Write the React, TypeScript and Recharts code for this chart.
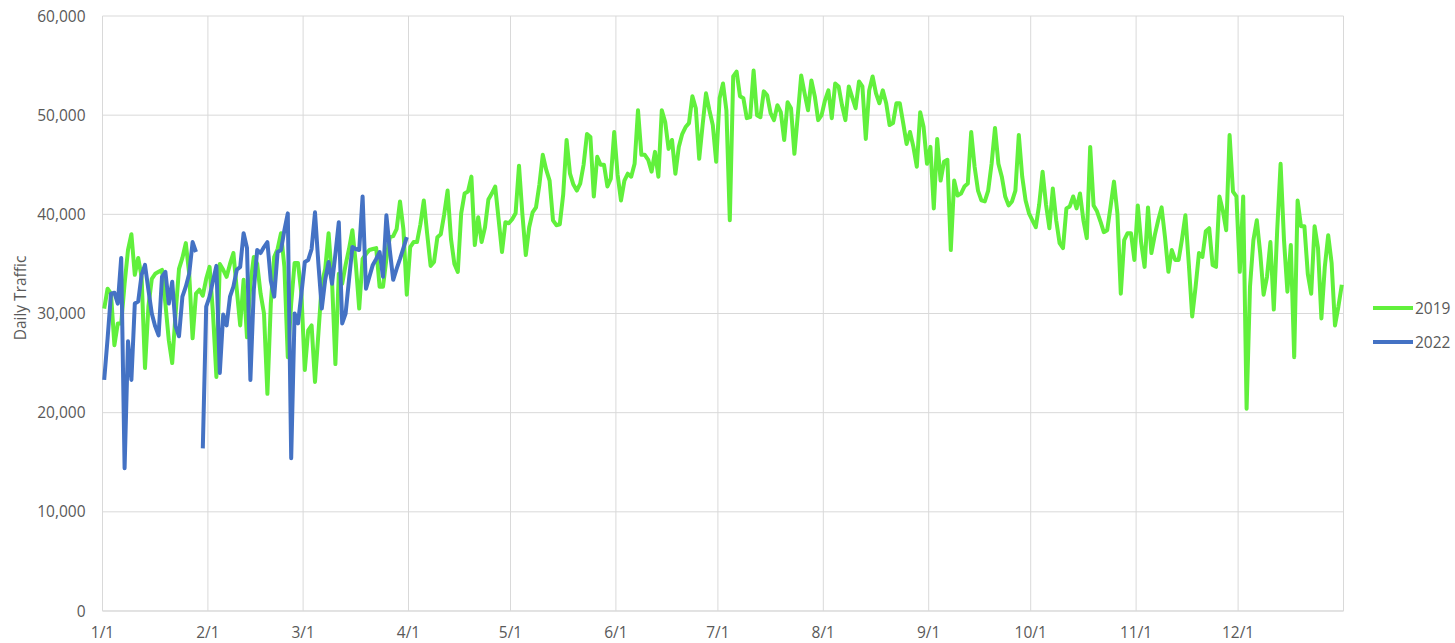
import React from "react";
import { LineChart, Line, XAxis, YAxis, CartesianGrid } from "recharts";

// daily traffic, in thousands, one value per day
const jan2019 = [30.5, 32.5, 32.0, 26.8, 29.0, 29.0, 33.0, 36.4, 38.0, 33.9, 35.6, 33.7, 24.5, 30.7, 33.5, 34.0, 34.2, 34.4, 31.0, 27.3, 25.0, 30.0, 34.5, 35.6, 37.1, 34.0, 27.5, 32.0, 32.4, 31.8, 33.5];
const feb2019 = [34.7, 30.0, 23.6, 35.0, 34.4, 33.7, 35.0, 36.1, 32.4, 28.8, 33.4, 27.6, 33.0, 35.7, 35.0, 32.0, 30.0, 21.9, 31.0, 35.7, 36.5, 38.1, 34.7, 25.6, 31.0, 35.1, 35.1, 32.0];
const mar2019 = [24.3, 28.3, 28.8, 23.1, 28.0, 33.0, 34.5, 38.1, 33.4, 24.9, 34.0, 33.0, 34.9, 36.5, 38.4, 35.0, 30.5, 35.5, 36.0, 36.4, 36.5, 36.6, 32.7, 32.7, 35.5, 37.7, 37.8, 38.5, 41.3, 38.5, 31.9];
const apr2019 = [36.7, 37.2, 37.2, 39.0, 41.4, 38.0, 34.8, 35.2, 37.7, 38.0, 40.0, 42.4, 37.5, 35.0, 34.2, 40.1, 42.1, 42.3, 43.8, 36.9, 39.7, 37.2, 38.7, 41.5, 42.1, 42.8, 39.5, 36.2, 39.2, 39.1];
const may2019 = [39.5, 40.1, 44.9, 40.0, 35.9, 38.7, 40.2, 40.7, 43.0, 46.0, 44.5, 43.4, 39.4, 38.9, 39.0, 42.0, 47.5, 44.1, 43.0, 42.4, 43.1, 45.0, 48.1, 47.8, 41.8, 45.8, 45.0, 45.0, 42.8, 43.6, 48.3];
const jun2019 = [44.0, 41.4, 43.4, 44.1, 43.8, 45.1, 50.5, 46.0, 46.0, 45.5, 44.3, 46.3, 43.8, 50.5, 49.3, 46.6, 47.5, 44.1, 46.8, 48.1, 48.8, 49.2, 51.9, 50.7, 45.6, 49.0, 52.2, 50.5, 49.0, 45.3];
const jul2019 = [51.7, 53.2, 50.5, 39.4, 53.9, 54.4, 51.9, 51.7, 49.7, 49.8, 54.5, 50.0, 49.8, 52.4, 52.0, 50.2, 49.5, 51.0, 50.3, 47.5, 51.3, 50.7, 46.1, 50.0, 54.0, 52.2, 50.5, 53.5, 51.9, 49.5, 50.0];
const aug2019 = [51.5, 52.5, 49.7, 53.2, 52.9, 51.0, 49.5, 52.9, 51.8, 50.7, 53.4, 52.9, 47.6, 52.5, 53.9, 52.2, 51.2, 52.5, 51.2, 49.0, 49.2, 51.2, 51.2, 49.2, 47.1, 48.3, 46.8, 44.8, 50.3, 48.8, 45.1];
const sep2019 = [46.8, 40.6, 47.6, 43.4, 45.3, 45.5, 36.4, 43.4, 41.9, 42.1, 42.8, 43.1, 48.3, 44.8, 42.4, 41.4, 41.3, 42.4, 45.1, 48.7, 45.1, 43.8, 41.8, 40.9, 41.3, 42.4, 48.0, 43.8, 41.4, 40.1];
const oct2019 = [39.4, 38.7, 41.0, 44.3, 41.0, 38.6, 42.6, 39.4, 37.1, 36.6, 40.6, 40.8, 41.8, 40.6, 42.1, 39.4, 37.6, 46.8, 40.9, 40.3, 39.3, 38.2, 38.4, 40.8, 43.3, 40.1, 32.0, 37.4, 38.1, 38.1, 35.4];
const nov2019 = [40.9, 37.1, 34.7, 40.7, 36.1, 37.9, 39.4, 40.7, 37.7, 34.2, 36.4, 35.4, 35.4, 37.5, 39.9, 35.0, 29.7, 32.7, 36.1, 35.7, 38.3, 38.6, 34.9, 34.7, 41.8, 40.4, 38.4, 48.0, 42.3, 41.8];
const dec2019 = [34.2, 41.8, 20.4, 32.7, 37.4, 39.4, 36.1, 31.9, 33.7, 37.2, 30.4, 38.4, 45.1, 37.4, 32.2, 36.9, 25.6, 41.4, 38.8, 38.8, 34.0, 32.0, 38.8, 36.6, 29.5, 34.7, 37.9, 35.1, 28.8, 30.7, 32.9];

const jan2022 = [23.3, 27.5, 32.0, 32.1, 31.0, 35.6, 14.4, 27.2, 23.3, 31.0, 31.2, 33.9, 34.9, 32.4, 30.0, 28.7, 27.8, 33.7, 34.2, 31.0, 33.2, 28.7, 27.7, 31.7, 32.7, 34.0, 37.2, 36.2, null, 16.4, 30.7];
const feb2022 = [31.7, 33.3, 34.8, 24.0, 29.9, 28.8, 31.7, 32.7, 34.4, 34.7, 38.1, 36.6, 23.3, 32.4, 36.4, 36.1, 36.7, 37.2, 33.3, 31.7, 36.2, 36.4, 38.4, 40.1, 15.4, 30.0, 29.0, 32.0];
const mar2022 = [35.2, 35.4, 36.5, 40.2, 35.0, 30.5, 33.4, 35.2, 33.0, 36.0, 39.2, 29.0, 30.0, 33.4, 36.7, 36.5, 36.4, 41.8, 32.5, 33.7, 34.9, 35.5, 36.2, 33.7, 39.9, 36.4, 33.4, 34.5, 35.5, 36.6, 37.7];

const monthStarts = [0, 31, 59, 90, 120, 151, 181, 212, 243, 273, 304, 334, 365];
const monthLabels = ["1/1", "2/1", "3/1", "4/1", "5/1", "6/1", "7/1", "8/1", "9/1", "10/1", "11/1", "12/1", ""];
const yTicks = [0, 10000, 20000, 30000, 40000, 50000, 60000];

const series2019 = [...jan2019, ...feb2019, ...mar2019, ...apr2019, ...may2019, ...jun2019, ...jul2019, ...aug2019, ...sep2019, ...oct2019, ...nov2019, ...dec2019];
const series2022 = [...jan2022, ...feb2022, ...mar2022];

// points sit in the middle of each day slot
const data = series2019.map((v, i) => ({
  day: i + 0.5,
  y2019: v * 1000,
  y2022: series2022[i] == null ? null : (series2022[i] as number) * 1000,
}));

const GREEN = "#61F03C";
const BLUE = "#4472C4";
const TEXT = "#595959";
const GRID = "#D9D9D9";
const FONT = "'Open Sans', sans-serif";

export default function App() {
  const tickStyle = { fill: TEXT, fontSize: 15.5, fontFamily: FONT };
  return (
    <div
      style={{
        position: "absolute",
        left: 0,
        top: 0,
        width: 1455,
        height: 643,
        background: "#fff",
      }}
    >
      <LineChart
        width={1455}
        height={643}
        data={data}
        margin={{ top: 16, right: 111.5, left: 0, bottom: 0 }}
      >
        <CartesianGrid stroke={GRID} strokeWidth={1} />
        <XAxis
          type="number"
          dataKey="day"
          domain={[0, 365]}
          ticks={monthStarts}
          tickFormatter={(v: number) => monthLabels[monthStarts.indexOf(v)]}
          height={32}
          axisLine={{ stroke: GRID }}
          tickLine={false}
          tickSize={6}
          tickMargin={10}
          tick={tickStyle}
          interval={0}
        />
        <YAxis
          domain={[0, 60000]}
          ticks={yTicks}
          width={102.5}
          axisLine={false}
          tickLine={false}
          tickSize={6}
          tickMargin={11}
          tick={tickStyle}
          tickFormatter={(v: number) => v.toLocaleString("en-US")}
          label={{
            content: () => (
              <text
                x={20}
                y={298}
                transform="rotate(-90 20 298)"
                textAnchor="middle"
                dominantBaseline="central"
                fill={TEXT}
                fontSize={15.5}
                fontFamily={FONT}
              >
                Daily Traffic
              </text>
            ),
          }}
        />
        <Line
          type="linear"
          dataKey="y2019"
          stroke={GREEN}
          strokeWidth={4}
          strokeLinejoin="round"
          dot={false}
          isAnimationActive={false}
        />
        <Line
          type="linear"
          dataKey="y2022"
          stroke={BLUE}
          strokeWidth={4}
          strokeLinejoin="round"
          dot={false}
          isAnimationActive={false}
        />
      </LineChart>
      {/* legend */}
      <div
        style={{
          position: "absolute",
          left: 1372,
          top: 296,
          fontFamily: FONT,
          fontSize: 15.5,
          color: TEXT,
          lineHeight: "24px",
        }}
      >
        {[
          { name: "2019", color: GREEN },
          { name: "2022", color: BLUE },
        ].map((item, i) => (
          <div
            key={item.name}
            style={{ display: "flex", alignItems: "center", marginBottom: i === 0 ? 10 : 0 }}
          >
            <svg width={42} height={8}>
              <line x1={1} y1={4} x2={41} y2={4} stroke={item.color} strokeWidth={4} />
            </svg>
            <span style={{ marginLeft: 1 }}>{item.name}</span>
          </div>
        ))}
      </div>
    </div>
  );
}
